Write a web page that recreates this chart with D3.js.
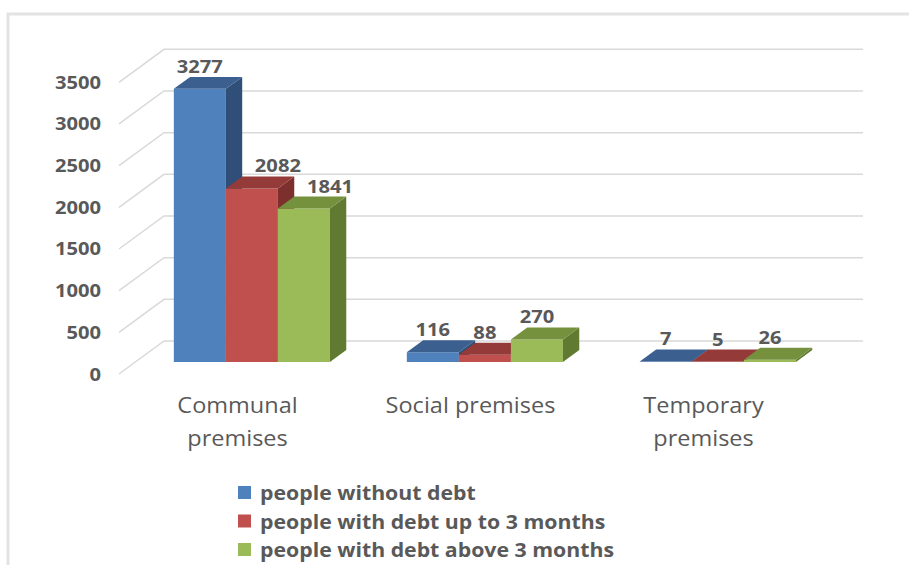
<!DOCTYPE html>
<html>
<head>
<meta charset="utf-8">
<script src="https://cdn.jsdelivr.net/npm/d3@7"></script>
<style>
    body { margin: 0; background: #fff; }
    text { font-family: "Open Sans", sans-serif; fill: #595959; }
</style>
</head>
<body>
<div id="chart"></div>
<script>
// chart data
var categories = ["Communal\npremises", "Social premises", "Temporary\npremises"];
var seriesNames = ["people without debt", "people with debt up to 3 months", "people with debt above 3 months"];
var withoutDebt = [3277, 116, 7];
var debtUpTo3 = [2082, 88, 5];
var debtAbove3 = [1841, 270, 26];
var yTicks = [0, 500, 1000, 1500, 2000, 2500, 3000, 3500];

var seriesValues = [withoutDebt, debtUpTo3, debtAbove3];
// front, top, side colours of each series
var colors = [
    ["#4f81bd", "#3b6090", "#2f4e78"],
    ["#c0504d", "#943a38", "#7c2f2d"],
    ["#9bbb59", "#76913e", "#617a31"]
];

var WIDTH = 909, HEIGHT = 565;
var SX = 1.12;                 // text in the picture is a little stretched
var FRONT_Y = 374;             // front edge of the floor
var DEPTH_X = 45, DEPTH_Y = -33; // full floor depth
var BAR_F0 = 0.364, BAR_F1 = 0.727; // bar depth inside the floor

var svg = d3.select("#chart").append("svg")
    .attr("width", WIDTH)
    .attr("height", HEIGHT);

// outer frame (only top and left are visible)
svg.append("path")
    .attr("d", "M8,565 L8,14 L909,14")
    .attr("fill", "none")
    .attr("stroke", "#e3e3e3")
    .attr("stroke-width", 3);

var x = d3.scaleBand()
    .domain(categories)
    .range([119, 818])
    .paddingInner(0.33)
    .paddingOuter(0.165);

var xs = d3.scaleBand()
    .domain(seriesNames)
    .range([0, x.bandwidth()]);

var h = d3.scaleLinear()
    .domain([0, 3500])
    .range([0, 291.7]);

// point at front x, depth fraction f, value v
function P(xf, f, v) {
    return [xf + DEPTH_X * f, FRONT_Y + DEPTH_Y * f - h(v)];
}
function poly(pts) {
    return "M" + pts.map(function (p) { return p[0] + "," + p[1]; }).join("L") + "Z";
}
function place(sel, px, py) {
    return sel.attr("transform", "translate(" + px + "," + py + ") scale(" + SX + ",1)");
}

// gridlines: diagonal on the left wall + line along the back wall
var xr = x.range();
svg.append("g").selectAll("path")
    .data(yTicks).enter()
    .append("path")
    .attr("d", function (v) {
        var a = P(xr[0], 0, v), b = P(xr[0], 1, v), c = P(xr[1], 1, v);
        return "M" + a + "L" + b + "L" + c;
    })
    .attr("fill", "none")
    .attr("stroke", "#d9d9d9")
    .attr("stroke-width", 1.5);

// y labels
svg.append("g").selectAll("text")
    .data(yTicks).enter()
    .append("text")
    .call(function (s) {
        s.each(function (v) {
            place(d3.select(this), 101, P(xr[0], 0, v)[1] + 6.5);
        });
    })
    .attr("text-anchor", "end")
    .style("font-size", "18px")
    .style("font-weight", "bold")
    .text(function (v) { return v; });

// bars
var bars = svg.append("g");
var labels = svg.append("g");
categories.forEach(function (cat, ci) {
    seriesNames.forEach(function (s, si) {
        var v = seriesValues[si][ci];
        var x0 = x(cat) + xs(s), x1 = x0 + xs.bandwidth();
        var c = colors[si];
        // front face
        bars.append("path")
            .attr("d", poly([P(x0, BAR_F0, 0), P(x1, BAR_F0, 0), P(x1, BAR_F0, v), P(x0, BAR_F0, v)]))
            .attr("fill", c[0]);
        // right side
        bars.append("path")
            .attr("d", poly([P(x1, BAR_F0, 0), P(x1, BAR_F1, 0), P(x1, BAR_F1, v), P(x1, BAR_F0, v)]))
            .attr("fill", c[2]);
        // top
        bars.append("path")
            .attr("d", poly([P(x0, BAR_F0, v), P(x1, BAR_F0, v), P(x1, BAR_F1, v), P(x0, BAR_F1, v)]))
            .attr("fill", c[1]);

        // value label, moved right when the previous bar would hide it
        var lx = (x0 + x1) / 2 + DEPTH_X * BAR_F0;
        var ly = P(x0, BAR_F0, v)[1] - 16;
        if (si > 0) {
            var prevTop = P(x0, BAR_F1, seriesValues[si - 1][ci])[1];
            if (prevTop < ly - 2) lx += xs.bandwidth() / 2;
        }
        place(labels.append("text"), lx, ly)
            .attr("text-anchor", "middle")
            .style("font-size", "18px")
            .style("font-weight", "bold")
            .text(v);
    });
});

// category labels
categories.forEach(function (cat) {
    var cx = x(cat) + x.bandwidth() / 2 + 2;
    cat.split("\n").forEach(function (line, li) {
        place(svg.append("text"), cx, 413 + li * 33)
            .attr("text-anchor", "middle")
            .style("font-size", "21px")
            .text(line);
    });
});

// legend
var legend = svg.append("g").selectAll("g")
    .data(seriesNames).enter()
    .append("g")
    .attr("transform", function (d, i) { return "translate(238," + (486 + i * 28.5) + ")"; });
legend.append("rect")
    .attr("width", 13)
    .attr("height", 13)
    .attr("fill", function (d, i) { return colors[i][0]; });
legend.append("text")
    .attr("transform", "translate(22,14) scale(" + SX + ",1)")
    .style("font-size", "19px")
    .style("font-weight", "bold")
    .text(function (d) { return d; });
</script>
</body>
</html>
